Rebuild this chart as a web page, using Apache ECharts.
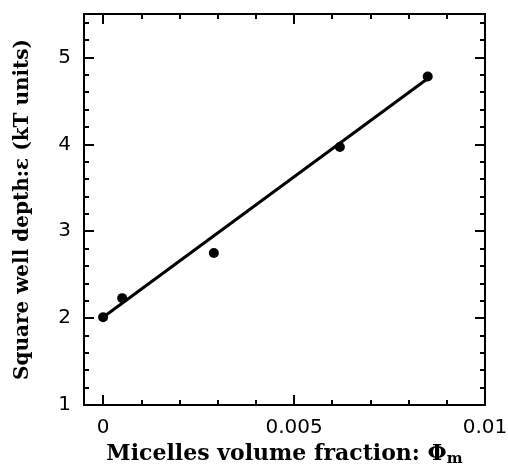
<!DOCTYPE html>
<html><head><meta charset="utf-8">
<script src="https://cdn.jsdelivr.net/npm/echarts@6/dist/echarts.min.js"></script>
<style>html,body{margin:0;padding:0;background:#fff}#c{width:508px;height:470px}</style>
</head><body><div id="c"></div>
<script>
const xValues = [0, 0.0005, 0.0029, 0.0062, 0.0085];
const yValues = [2.01, 2.23, 2.75, 3.97, 4.78];
const fitX = [0, 0.0086];
const fitY = [2.01, 4.79];
const xMajorTicks = [0, 0.005, 0.01];
const xMinorTicks = [0.001, 0.002, 0.003, 0.004, 0.006, 0.007, 0.008, 0.009];
const yMajorTicks = [1, 2, 3, 4, 5];
const yMinorTicks = [1.2,1.4,1.6,1.8,2.2,2.4,2.6,2.8,3.2,3.4,3.6,3.8,4.2,4.4,4.6,4.8,5.2,5.4];
const xLabels = {"0": "0", "0.005": "0.005", "0.01": "0.01"};
const xTitle = "Micelles volume fraction: ";
const yTitle = "Square well depth:ε (kT units)";

const X_MIN = -0.0005, X_MAX = 0.01, Y_MIN = 1, Y_MAX = 5.5;
const black = '#000';
const titleFont = "DejaVu Serif";
const tickFont = "DejaVu Sans";

function xAxisDef(pos, ticks, len, withLabel, withLine) {
  return {
    type: 'value', position: pos, min: X_MIN, max: X_MAX,
    axisLine: {show: withLine, onZero: false, lineStyle: {color: black, width: 2}},
    axisTick: {show: true, inside: true, length: len, customValues: ticks, lineStyle: {color: black, width: 2}},
    axisLabel: withLabel ? {show: true, customValues: xMajorTicks, margin: 13, color: black, fontFamily: tickFont, fontSize: 20,
      formatter: v => xLabels[String(+v.toFixed(4))] ?? ''} : {show: false},
    splitLine: {show: false}
  };
}
function yAxisDef(pos, ticks, len, withLabel, withLine) {
  return {
    type: 'value', position: pos, min: Y_MIN, max: Y_MAX,
    axisLine: {show: withLine, onZero: false, lineStyle: {color: black, width: 2}},
    axisTick: {show: true, inside: true, length: len, customValues: ticks, lineStyle: {color: black, width: 2}},
    axisLabel: withLabel ? {show: true, customValues: yMajorTicks, margin: 13, color: black, fontFamily: tickFont, fontSize: 20,
      formatter: v => String(Math.round(v))} : {show: false},
    splitLine: {show: false}
  };
}

const chart = echarts.init(document.getElementById('c'), null, {renderer: 'canvas'});
const xa0 = xAxisDef('bottom', xMajorTicks, 10, true, true);
xa0.name = xTitle + '{phi|Φ}{sub|m}';
xa0.nameLocation = 'middle';
xa0.nameGap = 36;
xa0.nameTextStyle = {color: black, fontFamily: titleFont, fontWeight: 'bold', fontSize: 22,
  rich: {phi: {fontFamily: titleFont, fontWeight: 'bold', fontSize: 22, color: black},
         sub: {fontFamily: titleFont, fontWeight: 'bold', fontSize: 15, color: black, verticalAlign: 'bottom', padding: [10,0,0,0]}}};
const ya0 = yAxisDef('left', yMajorTicks, 10, true, true);
ya0.name = yTitle;
ya0.nameLocation = 'middle';
ya0.nameGap = 51;
ya0.nameTextStyle = {color: black, fontFamily: titleFont, fontWeight: 'bold', fontSize: 20};

chart.setOption({
  animation: false,
  backgroundColor: '#fff',
  grid: {left: 84, right: 23, top: 14, bottom: 65, outerBoundsMode: 'none', containLabel: false},
  xAxis: [
    xa0,
    xAxisDef('bottom', xMinorTicks, 5, false, false),
    xAxisDef('top', xMajorTicks, 10, false, true),
    xAxisDef('top', xMinorTicks, 5, false, false)
  ],
  yAxis: [
    ya0,
    yAxisDef('left', yMinorTicks, 5, false, false),
    yAxisDef('right', yMajorTicks, 10, false, true),
    yAxisDef('right', yMinorTicks, 5, false, false)
  ],
  series: [
    {type: 'line', xAxisIndex: 0, yAxisIndex: 0, data: fitX.map((x, i) => [x, fitY[i]]),
     showSymbol: false, lineStyle: {color: black, width: 3}},
    {type: 'scatter', xAxisIndex: 0, yAxisIndex: 0, data: xValues.map((x, i) => [x, yValues[i]]),
     symbolSize: 10, itemStyle: {color: black, opacity: 1}}
  ]
});
</script></body></html>
